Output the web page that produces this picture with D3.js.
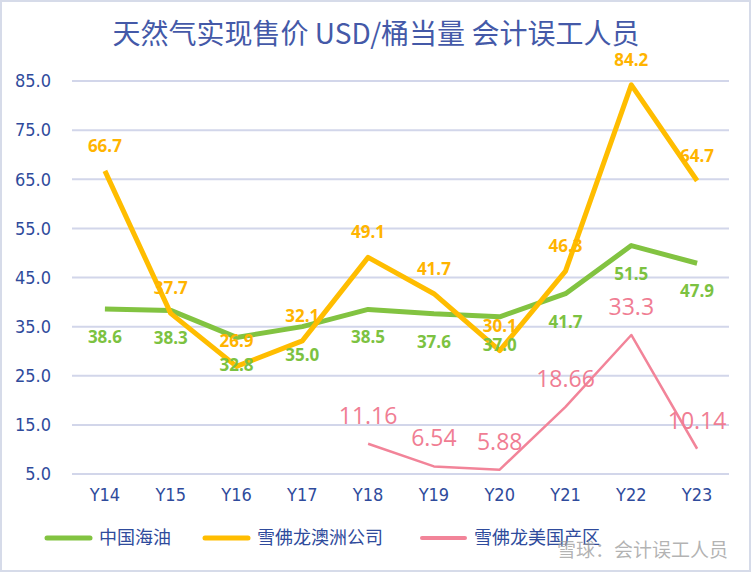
<!DOCTYPE html>
<html>
<head>
<meta charset="utf-8">
<script src="https://cdn.jsdelivr.net/npm/d3@7"></script>
<style>
  body { margin: 0; background: #fff; }
  svg { display: block; }
</style>
</head>
<body>
<div id="chart"></div>
<script>

// Data
var years = ["Y14", "Y15", "Y16", "Y17", "Y18", "Y19", "Y20", "Y21", "Y22", "Y23"];
var cnooc = [38.6, 38.3, 32.8, 35.0, 38.5, 37.6, 37.0, 41.7, 51.5, 47.9];
var chevronAus = [66.7, 37.7, 26.9, 32.1, 49.1, 41.7, 30.1, 46.3, 84.2, 64.7];
var chevronUS = [null, null, null, null, 11.16, 6.54, 5.88, 18.66, 33.3, 10.14];
var yTicks = [5, 15, 25, 35, 45, 55, 65, 75, 85];

var W = 751, H = 572;
var cjk = "'Noto Sans CJK SC', 'Noto Sans', sans-serif";
var narrow = "'Liberation Sans Narrow', 'DejaVu Sans Condensed', 'Open Sans', sans-serif";
var tickColor = "#2f4b9c";

var svg = d3.select("#chart").append("svg")
    .attr("width", W)
    .attr("height", H);

// outer frame
svg.append("rect")
    .attr("x", 1).attr("y", 1)
    .attr("width", W - 2).attr("height", H - 2)
    .attr("fill", "#fff")
    .attr("stroke", "#d6dbe9")
    .attr("stroke-width", 2);

// Scales
var x = d3.scaleBand()
    .domain(years)
    .range([72, 730]);

var y = d3.scaleLinear()
    .domain([5, 85])
    .range([474, 81]);

function cx(d, i) { return x(years[i]) + x.bandwidth() / 2; }

// Title
svg.append("text")
    .attr("x", 376)
    .attr("y", 44)
    .attr("text-anchor", "middle")
    .attr("font-family", cjk)
    .attr("font-size", 28)
    .attr("fill", "#4459a8")
    .text("天然气实现售价 USD/桶当量 会计误工人员");

// Gridlines
svg.append("g")
    .selectAll("line")
    .data(yTicks)
    .enter().append("line")
    .attr("x1", 72).attr("x2", 729)
    .attr("y1", function(d) { return y(d); })
    .attr("y2", function(d) { return y(d); })
    .attr("stroke", "#d2d6ea")
    .attr("stroke-width", 2);

// Y axis labels
var yAxis = d3.axisLeft(y)
    .tickValues(yTicks)
    .tickSize(0)
    .tickPadding(0)
    .tickFormat(d3.format(".1f"));

var gy = svg.append("g")
    .attr("transform", "translate(51,0)")
    .call(yAxis);
gy.select(".domain").remove();
gy.selectAll("text")
    .attr("font-family", narrow)
    .attr("font-size", 18)
    .attr("fill", tickColor);

// X axis labels
var xAxis = d3.axisBottom(x).tickSize(0).tickPadding(0);
var gx = svg.append("g")
    .attr("transform", "translate(0,488)")
    .call(xAxis);
gx.select(".domain").remove();
gx.selectAll("text")
    .attr("font-family", narrow)
    .attr("font-size", 18)
    .attr("fill", tickColor);

// Lines
var line = d3.line()
    .defined(function(d) { return d != null; })
    .x(cx)
    .y(function(d) { return y(d); });

var series = [
    { name: "中国海油", values: cnooc, color: "#82c341", width: 5, textColor: "#7cc241", dy: 28, size: 17, weight: "bold", fmt: d3.format(".1f") },
    { name: "雪佛龙澳洲公司", values: chevronAus, color: "#ffbd00", width: 5, textColor: "#ffb400", dy: -25, size: 17, weight: "bold", fmt: d3.format(".1f") },
    { name: "雪佛龙美国产区", values: chevronUS, color: "#f28499", width: 2.5, textColor: "#f07d93", dy: -28, size: 23, weight: "normal", fmt: function(d) { return String(d); } }
];

series.forEach(function(s) {
    svg.append("path")
        .attr("d", line(s.values))
        .attr("fill", "none")
        .attr("stroke", s.color)
        .attr("stroke-width", s.width)
        .attr("stroke-linejoin", "round");
});

// Data labels
series.forEach(function(s) {
    svg.append("g")
        .selectAll("text")
        .data(s.values)
        .enter().filter(function(d) { return d != null; })
        .append("text")
        .attr("x", function(d) { return cx(d, s.values.indexOf(d)); })
        .attr("y", function(d) { return y(d) + s.dy; })
        .attr("dy", "0.35em")
        .attr("text-anchor", "middle")
        .attr("font-family", "'Open Sans', 'Noto Sans', sans-serif")
        .attr("font-size", s.size)
        .attr("font-weight", s.weight)
        .attr("fill", s.textColor)
        .text(s.fmt);
});

// Legend
var legendX = [47, 205, 422];
series.forEach(function(s, i) {
    var g = svg.append("g").attr("transform", "translate(" + legendX[i] + ",538)");
    g.append("line")
        .attr("x1", 0).attr("x2", 43)
        .attr("stroke", s.color)
        .attr("stroke-width", s.width === 5 ? 5 : 4)
        .attr("stroke-linecap", "round");
    g.append("text")
        .attr("x", 52)
        .attr("dy", "0.35em")
        .attr("font-family", cjk)
        .attr("font-size", 18)
        .attr("fill", tickColor)
        .text(s.name);
});

// Watermark
svg.append("text")
    .attr("x", 728)
    .attr("y", 557)
    .attr("text-anchor", "end")
    .attr("font-family", cjk)
    .attr("font-size", 19)
    .attr("fill", "#9a9a9a")
    .attr("fill-opacity", 0.75)
    .text("雪球：会计误工人员");

</script>
</body>
</html>
